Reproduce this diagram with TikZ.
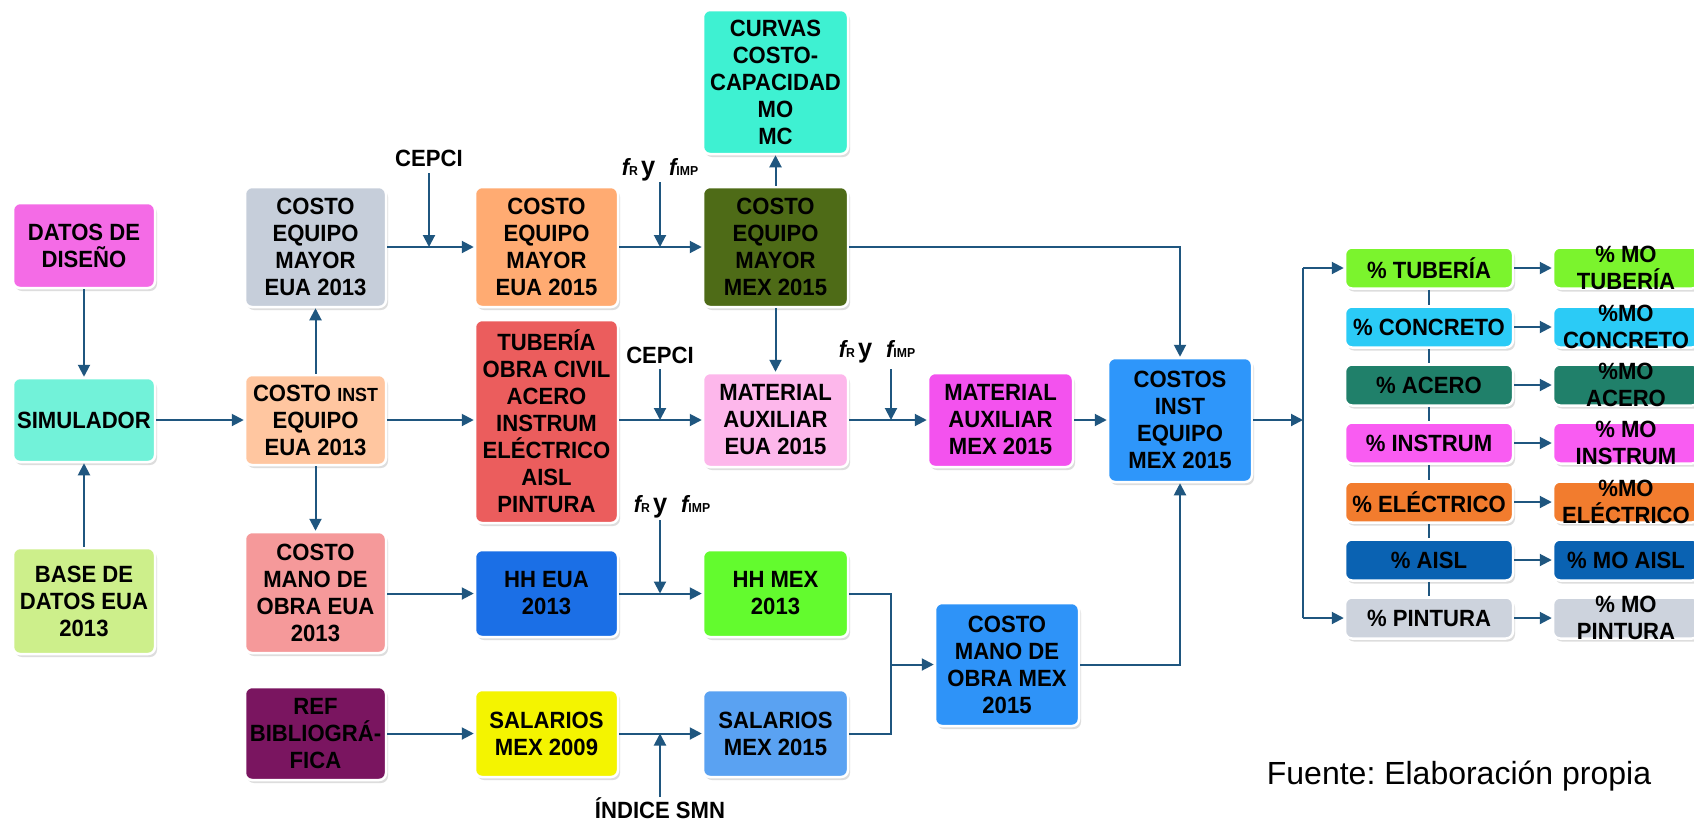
\documentclass[tikz,border=0pt]{standalone}
\usepackage{fontspec}
\setmainfont{Liberation Sans}
\newfontfamily\bxf[FakeStretch=0.94]{Liberation Sans}
\usetikzlibrary{arrows.meta,shadows}
\definecolor{ln}{HTML}{1F567F}
\definecolor{cDatos}{HTML}{F46BE6}
\definecolor{cSim}{HTML}{72F2D9}
\definecolor{cBase}{HTML}{CDEF8B}
\definecolor{cEqA}{HTML}{C6CEDA}
\definecolor{cInstA}{HTML}{FFC6A0}
\definecolor{cManoA}{HTML}{F5999A}
\definecolor{cRef}{HTML}{7A1560}
\definecolor{cEqB}{HTML}{FFAB72}
\definecolor{cTub}{HTML}{EB5D5D}
\definecolor{cHHeua}{HTML}{1B6FE6}
\definecolor{cSalA}{HTML}{F4F400}
\definecolor{cCurv}{HTML}{3EF1D2}
\definecolor{cEqmx}{HTML}{4E6B17}
\definecolor{cMaeua}{HTML}{FDB7EB}
\definecolor{cHHmex}{HTML}{63FB2E}
\definecolor{cSalB}{HTML}{5AA2F2}
\definecolor{cMamex}{HTML}{F352EE}
\definecolor{cMano}{HTML}{2E93F8}
\definecolor{cCost}{HTML}{2E96FA}
\definecolor{pTub}{HTML}{7BF42D}
\definecolor{pCon}{HTML}{2BCBF6}
\definecolor{pAce}{HTML}{20806A}
\definecolor{pIns}{HTML}{F95CF2}
\definecolor{pEle}{HTML}{F27C2E}
\definecolor{pAis}{HTML}{0A62B2}
\definecolor{pPin}{HTML}{CDD3DD}
\newcommand{\fRfIMP}{{\itshape f}{\fontsize{13}{13}\selectfont R}\hspace{3pt}{\fontsize{27}{27}\selectfont y}\hspace{14pt}{\itshape f}{\fontsize{13}{13}\selectfont IMP}}
\tikzset{
 box/.style={rectangle, rounded corners=7pt, draw=white, line width=2.5pt, inner sep=0pt, align=center,
   font=\bxf\bfseries\fontsize{23.5}{27}\selectfont, text=black,
   drop shadow={shadow xshift=2pt, shadow yshift=-3pt, opacity=0.22, fill=black!60}},
 con/.style={draw=ln, line width=2pt},
 arr/.style={con, -{Triangle[length=12pt,width=12pt]}},
 lab/.style={font=\bxf\bfseries\fontsize{23.5}{27}\selectfont, inner sep=0pt},
 pbox/.style={box, minimum width=168pt, minimum height=41pt},
 mbox/.style={box, minimum width=146pt, minimum height=41pt},
 mtxt/.style={lab, align=center, fill=none, draw=none},
}
\begin{document}
\begin{tikzpicture}[x=1pt,y=-1pt]
\useasboundingbox (0,0) rectangle (1694,820);
\fill[white] (0,0) rectangle (1694,820);
\clip (0,0) rectangle (1694,820);

% column 1
\node[box, fill=cDatos, minimum width=142pt, minimum height=85pt] (datos) at (84,245.5) {DATOS DE\\DISEÑO};
\node[box, fill=cSim, minimum width=142pt, minimum height=84pt] (sim) at (84,420) {SIMULADOR};
\node[box, fill=cBase, minimum width=142pt, minimum height=106pt] (base) at (84,601) {BASE DE\\DATOS EUA\\2013};
% column 2
\node[box, fill=cEqA, minimum width=141pt, minimum height=120pt] (eqa) at (315.5,247) {COSTO\\EQUIPO\\MAYOR\\EUA 2013};
\node[box, fill=cInstA, minimum width=141pt, minimum height=90pt] (insta) at (315.5,420) {COSTO {\fontsize{19}{27}\selectfont INST}\\EQUIPO\\EUA 2013};
\node[box, fill=cManoA, minimum width=141pt, minimum height=121pt] (manoa) at (315.5,592.5) {COSTO\\MANO DE\\OBRA EUA\\2013};
\node[box, fill=cRef, minimum width=141pt, minimum height=93pt] (ref) at (315.5,733.5) {REF\\BIBLIOGRÁ-\\FICA};
% column 3
\node[box, fill=cEqB, minimum width=143pt, minimum height=120pt] (eqb) at (546.5,247) {COSTO\\EQUIPO\\MAYOR\\EUA 2015};
\node[box, fill=cTub, minimum width=143pt, minimum height=203pt] (tub) at (546.5,421.5) {TUBERÍA\\OBRA CIVIL\\ACERO\\INSTRUM\\ELÉCTRICO\\AISL\\PINTURA};
\node[box, fill=cHHeua, minimum width=143pt, minimum height=87pt] (hheua) at (546.5,593.5) {HH EUA\\2013};
\node[box, fill=cSalA, minimum width=143pt, minimum height=87pt] (sala) at (546.5,733.5) {SALARIOS\\MEX 2009};
% column 4
\node[box, fill=cCurv, minimum width=145pt, minimum height=144pt] (curv) at (775.5,82) {CURVAS\\COSTO-\\CAPACIDAD\\MO\\MC};
\node[box, fill=cEqmx, minimum width=145pt, minimum height=120pt] (eqmx) at (775.5,247) {COSTO\\EQUIPO\\MAYOR\\MEX 2015};
\node[box, fill=cMaeua, minimum width=145pt, minimum height=94pt] (maeua) at (775.5,420) {MATERIAL\\AUXILIAR\\EUA 2015};
\node[box, fill=cHHmex, minimum width=145pt, minimum height=87pt] (hhmex) at (775.5,593.5) {HH MEX\\2013};
\node[box, fill=cSalB, minimum width=145pt, minimum height=87pt] (salb) at (775.5,733.5) {SALARIOS\\MEX 2015};
% column 5/6
\node[box, fill=cMamex, minimum width=145pt, minimum height=94pt] (mamex) at (1000.5,420) {MATERIAL\\AUXILIAR\\MEX 2015};
\node[box, fill=cMano, minimum width=144pt, minimum height=123pt] (manomx) at (1007,664.5) {COSTO\\MANO DE\\OBRA MEX\\2015};
\node[box, fill=cCost, minimum width=144pt, minimum height=124pt] (cost) at (1180,420) {COSTOS\\INST\\EQUIPO\\MEX 2015};

% percentage column
\node[pbox, fill=pTub] (p1) at (1429,268) {\% TUBERÍA};
\node[pbox, fill=pCon] (p2) at (1429,327) {\% CONCRETO};
\node[pbox, fill=pAce] (p3) at (1429,385) {\% ACERO};
\node[pbox, fill=pIns] (p4) at (1429,443) {\% INSTRUM};
\node[pbox, fill=pEle] (p5) at (1429,502) {\% ELÉCTRICO};
\node[pbox, fill=pAis] (p6) at (1429,560) {\% AISL};
\node[pbox, fill=pPin] (p7) at (1429,618) {\% PINTURA};
% MO column
\node[mbox, fill=pTub] (m1) at (1626,268) {};
\node[mbox, fill=pCon] (m2) at (1626,327) {};
\node[mbox, fill=pAce] (m3) at (1626,385) {};
\node[mbox, fill=pIns] (m4) at (1626,443) {};
\node[mbox, fill=pEle] (m5) at (1626,502) {};
\node[mbox, fill=pAis] (m6) at (1626,560) {};
\node[mbox, fill=pPin] (m7) at (1626,618) {};
\node[mtxt] (m1t) at (m1) {\% MO\\TUBERÍA};
\node[mtxt] (m2t) at (m2) {\%MO\\CONCRETO};
\node[mtxt] (m3t) at (m3) {\%MO\\ACERO};
\node[mtxt] (m4t) at (m4) {\% MO\\INSTRUM};
\node[mtxt] (m5t) at (m5) {\%MO\\ELÉCTRICO};
\node[mtxt] (m6t) at (m6) {\% MO AISL};
\node[mtxt] (m7t) at (m7) {\% MO\\PINTURA};

% labels
\node[lab] (cep1) at (429,158) {CEPCI};
\node[lab] (fr1) at (660,170) {\fRfIMP};
\node[lab] (cep2) at (660,355) {CEPCI};
\node[lab] (fr2) at (877,352) {\fRfIMP};
\node[lab] (fr3) at (672,507) {\fRfIMP};
\node[lab] (smn) at (660,808) {ÍNDICE SMN};
\node[font=\frenchspacing\fontsize{32}{36}\selectfont, inner sep=0pt] (fuente) at (1459,776) {Fuente: Elaboración propia};

\coordinate (c1) at (429,173);
\coordinate (c2) at (660,182);
\coordinate (c3) at (660,369);
\coordinate (c4) at (891,369);
\coordinate (c5) at (660,520);
\coordinate (c6) at (660,797);
\coordinate (br) at (1303,420);
\coordinate (bm) at (891,664.5);

% connectors
\draw[arr] (datos) -- (sim);
\draw[arr] (base) -- (sim);
\draw[arr] (sim) -- (insta);
\draw[arr] (insta) -- (eqa);
\draw[arr] (insta) -- (manoa);
\draw[arr] (insta) -- (tub.west |- insta);
\draw[arr] (eqa) -- (eqb);
\draw[arr] (c1) -- (c1 |- eqa.east);
\draw[arr] (eqb) -- (eqmx);
\draw[arr] (c2) -- (c2 |- eqb.east);
\draw[arr] (eqmx) -- (curv);
\draw[arr] (eqmx) -- (maeua);
\draw[arr] (eqmx.east) -| (cost.north);
\draw[arr] (tub.east |- maeua) -- (maeua);
\draw[arr] (c3) -- (c3 |- maeua.west);
\draw[arr] (maeua) -- (mamex);
\draw[arr] (c4) -- (c4 |- mamex.west);
\draw[arr] (mamex) -- (cost);
\draw[arr] (manoa.east |- hheua) -- (hheua);
\draw[arr] (hheua) -- (hhmex);
\draw[arr] (c5) -- (c5 |- hheua.east);
\draw[arr] (ref.east |- sala) -- (sala);
\draw[arr] (sala) -- (salb);
\draw[arr] (c6) -- (c6 |- sala.east);
\draw[con] (hhmex.east) -| (bm);
\draw[con] (salb.east) -| (bm);
\draw[arr] (bm) -- (manomx);
\draw[arr] (manomx.east) -| (cost.south);
\draw[arr] (cost.east) -- (br);
\draw[con] (br |- p1.west) -- (br |- p7.west);
\draw[arr] (br |- p1.west) -- (p1);
\draw[arr] (br |- p7.west) -- (p7);
\draw[con] (p1) -- (p2);
\draw[con] (p2) -- (p3);
\draw[con] (p3) -- (p4);
\draw[con] (p4) -- (p5);
\draw[con] (p5) -- (p6);
\draw[con] (p6) -- (p7);
\draw[arr] (p1) -- (m1);
\draw[arr] (p2) -- (m2);
\draw[arr] (p3) -- (m3);
\draw[arr] (p4) -- (m4);
\draw[arr] (p5) -- (m5);
\draw[arr] (p6) -- (m6);
\draw[arr] (p7) -- (m7);
\end{tikzpicture}
\end{document}
